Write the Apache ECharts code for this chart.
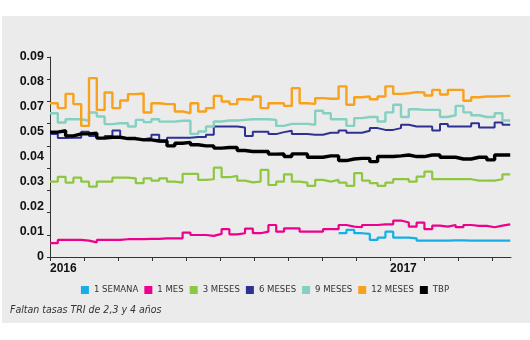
<!DOCTYPE html>
<html><head><meta charset="utf-8">
<script src="https://cdn.jsdelivr.net/npm/echarts@6/dist/echarts.min.js"></script>
<style>html,body{margin:0;padding:0;background:#fff}#c{width:530px;height:340px}</style>
</head><body><div id="c"></div>
<script>
// weekly observations (index = week number)
const seriesNames = ['1 SEMANA','1 MES','3 MESES','6 MESES','9 MESES','12 MESES','TBP'];
const yTickLabels = ['0','0.01','0.02','0.03','0.04','0.05','0.07','0.08','0.09'];
const xYearLabels = ['2016','2017'];

const semana1 = [null,null,null,null,null,null,null,null,null,null,
  null,null,null,null,null,null,null,null,null,null,
  null,null,null,null,null,null,null,null,null,null,
  null,null,null,null,null,null,null,.0107,.0122,.0107,
  .0104,.0077,.0087,.0114,.0087,.0087,.0084,.0074,.0074,.0074,
  .0074,.0075,.0075,.0074,.0074,.0074,.0074,.0074,.0074,.0074];
const mes1 = [.0062,.0077,.0077,.0077,.0074,.0066,.0077,.0077,.0077,.0080,
  .0080,.0080,.0082,.0082,.0084,.0084,.0084,.0110,.0099,.0099,
  .0095,.0104,.0125,.0102,.0107,.0128,.0107,.0114,.0144,.0114,
  .0129,.0129,.0114,.0114,.0114,.0125,.0125,.0144,.0137,.0134,
  .0144,.0144,.0147,.0147,.0164,.0155,.0137,.0155,.0125,.0141,
  .0137,.0144,.0134,.0144,.0140,.0140,.0134,.0141,.0147,.0147];
const meses3 = [.0339,.0361,.0335,.0357,.0339,.0317,.0339,.0339,.0357,.0357,
  .0354,.0332,.0354,.0344,.0354,.0339,.0335,.0374,.0374,.0347,
  .0350,.0402,.0359,.0365,.0344,.0336,.0339,.0392,.0324,.0339,
  .0372,.0339,.0335,.0320,.0347,.0339,.0347,.0335,.0320,.0377,
  .0344,.0332,.0320,.0335,.0350,.0350,.0339,.0362,.0384,.0350,
  .0350,.0350,.0350,.0350,.0344,.0344,.0344,.0350,.0372,.0372];
const meses6 = [.0554,.0535,.0537,.0537,.0564,.0545,.0535,.0545,.0569,.0535,
  .0530,.0530,.0535,.0550,.0519,.0537,.0537,.0537,.0540,.0540,
  .0550,.0587,.0587,.0587,.0583,.0545,.0564,.0564,.0553,.0562,
  .0568,.0554,.0554,.0550,.0550,.0559,.0559,.0569,.0559,.0559,
  .0568,.0580,.0572,.0572,.0580,.0595,.0587,.0587,.0587,.0569,
  .0599,.0587,.0587,.0587,.0602,.0583,.0583,.0605,.0595,.0595];
const meses9 = [.0647,.0605,.0620,.0620,.0613,.0650,.0632,.0598,.0602,.0602,
  .0587,.0617,.0607,.0620,.0609,.0609,.0613,.0613,.0554,.0565,
  .0587,.0610,.0614,.0614,.0617,.0620,.0620,.0620,.0617,.0590,
  .0599,.0599,.0599,.0595,.0658,.0647,.0620,.0620,.0590,.0625,
  .0630,.0630,.0610,.0651,.0685,.0630,.0665,.0662,.0662,.0662,
  .0630,.0638,.0680,.0651,.0638,.0630,.0630,.0647,.0614,.0614];
const meses12 = [.0692,.0670,.0734,.0688,.0590,.0805,.0662,.0740,.0670,.0704,
  .0733,.0736,.0650,.0692,.0688,.0688,.0655,.0647,.0692,.0655,
  .0670,.0725,.0700,.0688,.0710,.0707,.0722,.0670,.0692,.0692,
  .0680,.0760,.0692,.0689,.0715,.0712,.0712,.0768,.0685,.0719,
  .0722,.0710,.0722,.0768,.0734,.0737,.0742,.0740,.0727,.0752,
  .0731,.0752,.0752,.0703,.0719,.0722,.0722,.0724,.0725,.0725];
const tbp = [.0562,.0568,.0545,.0554,.0554,.0557,.0535,.0539,.0539,.0533,
  .0533,.0527,.0527,.0522,.0522,.0500,.0512,.0516,.0505,.0500,
  .0500,.0490,.0493,.0493,.0479,.0475,.0475,.0475,.0463,.0464,
  .0452,.0464,.0464,.0449,.0449,.0455,.0455,.0434,.0441,.0444,
  .0444,.0429,.0452,.0452,.0455,.0459,.0452,.0452,.0459,.0459,
  .0449,.0449,.0441,.0441,.0449,.0449,.0437,.0459,.0459,.0459];

const allValues = [semana1, mes1, meses3, meses6, meses9, meses12, tbp];
const colors = ['#15aee8','#ec008c','#8dc63f','#2e3192','#84d0c1','#f9a11b','#000000'];
const widths = [2.2,2.2,2.2,2,2.4,2.4,3.4];

const monthStep = 4.36;   // weeks per axis tick
const cond = '"DejaVu Sans Condensed","Liberation Sans Narrow","Liberation Sans",Arial,sans-serif';
const sans = '"Liberation Sans",Arial,Helvetica,sans-serif';

const chart = echarts.init(document.getElementById('c'), null, {renderer:'canvas'});
const tickVals = [];
for (let i = 0; i <= 13; i++) tickVals.push(+(i * monthStep).toFixed(3));

chart.setOption({
  animation: false,
  backgroundColor: '#ffffff',
  graphic: [
    {type:'rect', z:-10, silent:true, shape:{x:2, y:16, width:528, height:307}, style:{fill:'#ebebeb'}},
    {type:'text', z:10, left:10, top:305, style:{text:'Faltan tasas TRI de 2,3 y 4 años', fontFamily:cond, fontStyle:'italic', fontSize:10.5, fill:'#333'}}
  ],
  grid: {left:50, right:19, top:57, bottom:83, containLabel:false},
  legend: {
    data: seriesNames, left:'center', top:280, icon:'rect', itemWidth:8, itemHeight:8, itemGap:6,
    textStyle:{fontFamily:cond, fontSize:9.5, color:'#333'}
  },
  xAxis: {
    type:'value', min:0, max:59.1,
    axisLine:{show:true, lineStyle:{color:'#333', width:1}},
    axisTick:{show:true, length:4, lineStyle:{color:'#333'}, customValues: tickVals},
    splitLine:{show:false},
    axisLabel:{customValues:[0, +(10*monthStep).toFixed(3)], align:'left', margin:6,
      fontFamily:sans, fontWeight:'bold', fontSize:12, color:'#111',
      formatter: v => (Math.round(v/monthStep) === 0 ? xYearLabels[0] : xYearLabels[1])}
  },
  yAxis: [
    {type:'value', min:0, max:0.09, interval:0.01,
      axisLine:{show:true, lineStyle:{color:'#333', width:1}},
      axisTick:{show:true, length:3, lineStyle:{color:'#333'}},
      axisLabel:{show:false}, splitLine:{show:false}},
    {type:'category', data:yTickLabels, boundaryGap:false, position:'left',
      axisLine:{show:false}, axisTick:{show:false}, splitLine:{show:false},
      axisLabel:{margin:6, fontFamily:sans, fontWeight:'bold', fontSize:12.5, color:'#111', padding:[0,0,6,0]}}
  ],
  series: seriesNames.map((name, s) => ({
    name, type:'line', step:'end', yAxisIndex:0, showSymbol:false, symbol:'none',
    color: colors[s], lineStyle:{color:colors[s], width:widths[s]},
    data: allValues[s].map((v, i) => [i, v]), z: 2 + s
  }))
});
</script></body></html>
